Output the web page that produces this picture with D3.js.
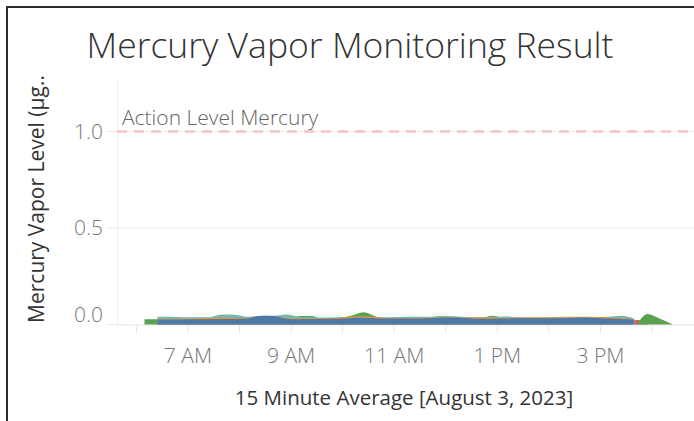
<!DOCTYPE html>
<html>
<head>
<meta charset="utf-8">
<script src="https://cdn.jsdelivr.net/npm/d3@7"></script>
<style>
  html, body { margin: 0; padding: 0; background: #fff; }
  svg { display: block; }
  text { font-family: "Open Sans", Lato, sans-serif; }
</style>
</head>
<body>
<script>
// ---- Data ----
const chartTitle = "Mercury Vapor Monitoring Result";
const xAxisTitle = "15 Minute Average [August 3, 2023]";
const yAxisTitle = "Mercury Vapor Level (µg..";
const refLabel = "Action Level Mercury";
const refValue = 1.0;
const yTicks = [0, 0.5, 1.0];

// 15-minute averages starting at 6:10 AM
const times = ["06:10","06:25","06:40","06:55","07:10","07:25","07:40","07:55","08:10","08:25",
  "08:40","08:55","09:10","09:25","09:40","09:55","10:10","10:25","10:40","10:55",
  "11:10","11:25","11:40","11:55","12:10","12:25","12:40","12:55","13:10","13:25",
  "13:40","13:55","14:10","14:25","14:40","14:55","15:10","15:25","15:40","15:55",
  "16:10","16:25"];

const seriesRed = [null,null,null,null,null,null,null,null,null,null,
  null,null,null,null,null,null,null,null,null,null,
  null,null,null,null,null,null,null,null,null,null,
  null,null,null,null,null,null,null,null,0.023,0.023,
  null,null];
const seriesGreen = [0.027,0.027,0.02,0.02,0.02,0.02,0.02,0.02,0.02,0.02,
  0.02,0.02,0.044,0.044,0.02,0.03,0.045,0.064,0.04,0.02,
  0.02,0.02,0.02,0.02,0.02,0.02,0.03,0.045,0.03,0.02,
  0.02,0.02,0.02,0.02,0.02,0.02,0.02,0.02,0.0,0.055,
  0.03,0.0];
const seriesTeal = [null,0.040,0.040,0.038,0.037,0.038,0.052,0.050,0.040,0.044,
  0.045,0.052,0.040,0.037,0.036,0.038,0.040,0.041,0.039,0.038,
  0.039,0.040,0.040,0.044,0.043,0.039,0.038,0.040,0.042,0.038,
  0.037,0.038,0.039,0.040,0.040,0.039,0.040,0.045,0.030,null,
  null,null];
const seriesOrange = [null,0.029,0.029,0.030,0.031,0.034,0.036,0.034,0.034,0.044,
  0.044,0.033,0.031,0.031,0.032,0.034,0.040,0.040,0.038,0.034,
  0.034,0.034,0.035,0.038,0.038,0.035,0.036,0.036,0.034,0.036,
  0.036,0.036,0.036,0.037,0.039,0.037,0.036,0.033,0.027,null,
  null,null];
const seriesBlue = [null,0.026,0.026,0.026,0.027,0.027,0.028,0.029,0.031,0.045,
  0.044,0.030,0.027,0.028,0.029,0.030,0.034,0.035,0.032,0.031,
  0.031,0.031,0.032,0.035,0.036,0.032,0.030,0.030,0.031,0.032,
  0.032,0.033,0.033,0.034,0.036,0.034,0.031,0.029,0.025,null,
  null,null];

const seriesNames = ["Red","Green","Teal","Orange","Blue"];
const seriesColors = ["#e15759","#59a14f","#76b7b2","#f28e2b","#4e79a7"];
const seriesValues = [seriesRed, seriesGreen, seriesTeal, seriesOrange, seriesBlue];

// ---- Layout ----
const W = 694, H = 421;
const plot = { left: 117, right: 694, top: 80, bottom: 324.5 };

const svg = d3.select("body").append("svg").attr("width", W).attr("height", H);

const parseT = d3.timeParse("%Y-%m-%d %H:%M");
const day = "2023-08-03 ";
const tData = times.map(t => parseT(day + t));

const x = d3.scaleTime()
  .domain([parseT(day + "05:38"), d3.timeSecond.offset(parseT(day + "16:49"), 30)])
  .range([plot.left, plot.right]);
const y = d3.scaleLinear().domain([0, 1.267]).range([plot.bottom, plot.top]);

// border
svg.append("path").attr("d", `M7,${H} V7 H${W}`).attr("fill", "none")
  .attr("stroke", "#2b2b2b").attr("stroke-width", 2);

// title
svg.append("text").attr("x", 350).attr("y", 58).attr("text-anchor", "middle")
  .attr("font-size", 35.5).attr("font-weight", 300).attr("fill", "#333").text(chartTitle);

// gridlines
svg.append("g").selectAll("line").data(yTicks.filter(d => d > 0)).join("line")
  .attr("x1", plot.left).attr("x2", plot.right)
  .attr("y1", d => y(d)).attr("y2", d => y(d))
  .attr("stroke", "#ececec").attr("stroke-width", 1);

// y axis line
svg.append("line").attr("x1", plot.left + 0.5).attr("x2", plot.left + 0.5)
  .attr("y1", plot.top).attr("y2", plot.bottom)
  .attr("stroke", "#efefef");

// y axis ticks & labels
const yAx = svg.append("g");
yAx.selectAll("line").data(yTicks).join("line")
  .attr("x1", 107).attr("x2", plot.left)
  .attr("y1", d => y(d)).attr("y2", d => y(d))
  .attr("stroke", "#e6e6e6");
yAx.selectAll("text").data(yTicks).join("text")
  .attr("x", 103).attr("y", d => y(d) + (d === 0 ? -10 : 0))
  .attr("dy", "0.35em").attr("text-anchor", "end")
  .attr("font-size", 21).attr("font-weight", 300).attr("fill", "#777")
  .text(d => d3.format(".1f")(d));

// y axis title
svg.append("text").attr("transform", `translate(44,199) rotate(-90)`)
  .attr("text-anchor", "middle").attr("font-size", 21).attr("fill", "#333")
  .text(yAxisTitle);

// x axis
const xAxis = d3.axisBottom(x)
  .ticks(d3.timeHour.every(1))
  .tickSize(8)
  .tickFormat(d => (d.getHours() % 2 === 1) ? d3.timeFormat("%-I %p")(d) : "");
const gx = svg.append("g").attr("transform", `translate(0,${plot.bottom + 1})`).call(xAxis);
gx.select(".domain").remove();
gx.selectAll(".tick line").attr("stroke", "#e6e6e6");
gx.selectAll(".tick text").attr("y", 30).attr("dy", "0.35em")
  .attr("font-size", 21).attr("font-weight", 300).attr("fill", "#777")
  .style("font-family", "'Open Sans', Lato, sans-serif");

// zero baseline
svg.append("line").attr("x1", plot.left).attr("x2", plot.right)
  .attr("y1", plot.bottom + 0.5).attr("y2", plot.bottom + 0.5)
  .attr("stroke", "#e6e6e6");

// areas
const area = d3.area()
  .defined(d => d.v !== null)
  .x(d => x(d.t))
  .y0(y(0))
  .y1(d => y(d.v))
  .curve(d3.curveMonotoneX);

const gA = svg.append("g");
seriesValues.forEach((vals, i) => {
  const pts = vals.map((v, j) => ({ t: tData[j], v: v }));
  gA.append("path").datum(pts)
    .attr("d", area)
    .attr("fill", seriesColors[i])
    .attr("data-series", seriesNames[i]);
});

// reference line
svg.append("line").attr("x1", plot.left).attr("x2", plot.right)
  .attr("y1", y(refValue)).attr("y2", y(refValue))
  .attr("stroke", "#f2c2c5").attr("stroke-width", 2.5)
  .attr("stroke-dasharray", "10,7");
svg.append("text").attr("x", 122).attr("y", y(refValue) - 7)
  .attr("font-size", 21).attr("font-weight", 300).attr("fill", "#666").text(refLabel);

// x axis title
svg.append("text").attr("x", 404).attr("y", 405).attr("text-anchor", "middle")
  .attr("font-size", 20.5).attr("fill", "#333").text(xAxisTitle);
</script>
</body>
</html>
